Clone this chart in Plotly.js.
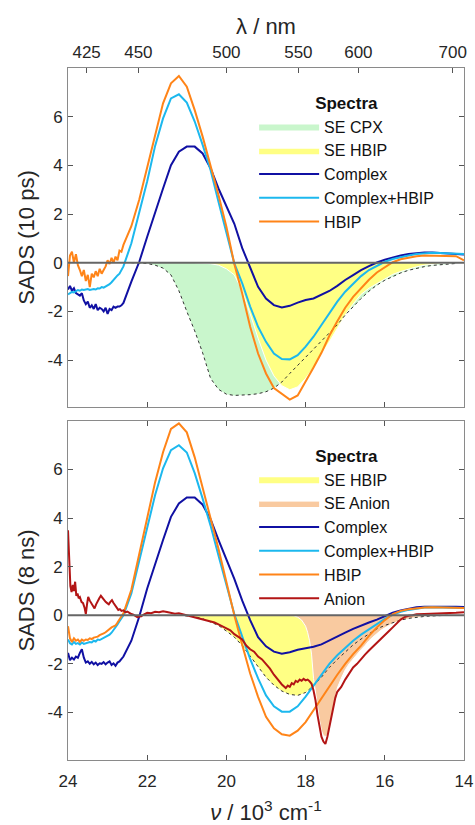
<!DOCTYPE html>
<html>
<head>
<meta charset="utf-8">
<script src="https://cdn.plot.ly/plotly-3.0.1.min.js"></script>
<style>html,body{margin:0;padding:0;background:#fff}#chart{width:475px;height:825px}</style>
</head>
<body>
<div id="chart"></div>
<script>
// wavenumber grid (10^3 cm^-1) for the SADS curves
const nu = [24.0,23.95,23.9,23.85,23.8,23.75,23.7,23.65,23.6,23.55,23.5,23.45,23.4,23.35,23.3,23.25,23.2,23.15,23.1,23.05,23.0,22.95,22.9,22.85,22.8,22.75,22.7,22.65,22.6,
  22.4,22.2,22.0,21.8,21.6,21.4,21.2,21.0,20.8,20.6,20.4,20.2,20.0,19.8,19.6,19.4,19.2,19.0,18.8,18.6,18.4,18.2,18.0,17.8,17.6,17.4,17.2,17.0,16.8,16.6,16.4,16.2,16.0,15.8,15.6,15.4,15.2,15.0,14.8,14.6,14.4,14.2,14.0];

// ---- top panel: SADS (10 ps)
const top_complex = [-1.1,-0.95,-1.15,-1.05,-1.25,-1.3,-1.35,-1.25,-1.55,-1.7,-1.6,-1.85,-1.75,-1.9,-1.7,-1.95,-1.85,-1.9,-2.0,-1.85,-2.1,-1.9,-1.95,-1.8,-1.85,-1.8,-1.8,-1.75,-1.65,
  -0.78,0.04,1.07,2.1,3.05,4.01,4.56,4.77,4.77,4.49,3.88,3.05,2.3,1.6,0.6,-0.2,-0.99,-1.47,-1.74,-1.84,-1.77,-1.64,-1.53,-1.47,-1.33,-1.16,-0.95,-0.71,-0.51,-0.3,-0.14,0.01,0.12,0.22,0.3,0.36,0.4,0.42,0.42,0.4,0.38,0.36,0.34];
const top_complexHBIP = [-1.3,-1.25,-1.2,-1.22,-1.15,-1.12,-1.15,-1.1,-1.12,-1.1,-1.08,-1.12,-1.1,-1.08,-1.1,-1.05,-1.06,-1.0,-1.02,-0.98,-0.95,-0.88,-0.8,-0.7,-0.6,-0.52,-0.45,-0.3,-0.15,
  0.8,2.1,3.35,4.8,5.93,6.75,6.92,6.58,5.8,4.84,3.81,2.5,1.2,-0.03,-0.85,-1.8,-2.63,-3.25,-3.73,-3.96,-3.97,-3.8,-3.45,-3.04,-2.56,-2.08,-1.6,-1.19,-0.85,-0.55,-0.3,-0.12,0.04,0.15,0.24,0.3,0.36,0.4,0.41,0.4,0.38,0.37,0.36];
const top_HBIP = [-0.55,0.3,0.45,0.0,0.35,-0.1,-0.3,-0.55,-0.3,-0.75,-0.5,-1.0,-0.45,-0.6,-0.35,-0.55,-0.25,-0.45,-0.3,-0.15,0.1,-0.05,0.2,0.0,0.25,0.1,0.5,0.45,0.73,
  1.5,2.6,3.9,5.2,6.55,7.37,7.67,7.23,6.27,5.18,4.01,2.78,1.48,-0.05,-1.26,-2.63,-3.73,-4.55,-5.15,-5.4,-5.62,-5.45,-4.9,-4.3,-3.7,-3.0,-2.4,-1.85,-1.4,-1.05,-0.7,-0.4,-0.18,0.02,0.14,0.22,0.27,0.3,0.3,0.3,0.28,0.27,0.1];

const nu_seCPX = [22.4,22.2,22.0,21.8,21.6,21.4,21.2,21.0,20.8,20.6,20.4,20.2,20.0,19.8,19.6,19.4,19.2,19.0,18.8,18.6,18.4,18.2,18.0,17.8,17.6,17.4,17.2,17.0,16.8,16.6,16.4,16.2,16.0,15.8,15.6,15.4,15.2,15.0,14.8,14.6,14.4,14.2];
const top_seCPX = [0,-0.01,-0.03,-0.1,-0.22,-0.5,-1.15,-2.0,-2.8,-3.7,-4.75,-5.2,-5.4,-5.45,-5.45,-5.42,-5.38,-5.3,-5.15,-4.9,-4.55,-4.22,-3.9,-3.55,-3.25,-2.92,-2.55,-2.15,-1.8,-1.47,-1.17,-0.92,-0.72,-0.56,-0.42,-0.31,-0.22,-0.16,-0.11,-0.08,-0.05,-0.03];

const nu_seHBIP_top = [20.8,20.6,20.4,20.2,20.0,19.8,19.6,19.4,19.2,19.0,18.8,18.6,18.4,18.2,18.0,17.8,17.6,17.4,17.2,17.0,16.8,16.6,16.4,16.2,16.0,15.8,15.6,15.4,15.2,15.0,14.8,14.6,14.4,14.2];
const top_seHBIP = [0,-0.01,-0.04,-0.1,-0.25,-0.5,-1.15,-2.1,-3.1,-4.0,-4.65,-5.05,-5.22,-5.1,-4.75,-4.3,-3.8,-3.25,-2.7,-2.15,-1.7,-1.3,-1.05,-0.85,-0.65,-0.48,-0.36,-0.26,-0.17,-0.1,-0.06,-0.04,-0.02,0];

// ---- bottom panel: SADS (8 ns)
const bot_complex = [-1.55,-1.85,-1.75,-1.82,-1.7,-1.75,-1.55,-1.4,-1.75,-1.95,-1.9,-2.0,-1.92,-2.02,-1.95,-2.05,-1.98,-2.0,-1.93,-2.02,-1.95,-1.9,-2.05,-1.98,-2.08,-1.95,-1.9,-1.8,-1.7,
  -1.05,-0.05,1.1,2.15,3.1,4.05,4.6,4.85,4.85,4.55,3.95,3.1,2.3,1.5,0.6,-0.2,-0.9,-1.28,-1.5,-1.58,-1.52,-1.42,-1.36,-1.3,-1.2,-1.05,-0.88,-0.72,-0.56,-0.42,-0.3,-0.18,-0.04,0.1,0.2,0.28,0.33,0.35,0.36,0.36,0.35,0.35,0.34];
const bot_complexHBIP = [-1.0,-1.15,-1.2,-1.1,-1.18,-1.15,-1.2,-1.12,-1.18,-1.15,-1.12,-1.1,-1.12,-1.05,-1.08,-1.0,-1.02,-0.98,-0.95,-0.9,-0.85,-0.8,-0.72,-0.62,-0.5,-0.38,-0.25,-0.12,0.0,
  0.9,2.2,3.6,4.95,6.05,6.8,7.0,6.7,5.85,4.8,3.69,2.46,1.25,0.05,-0.88,-1.8,-2.6,-3.3,-3.75,-3.97,-3.97,-3.75,-3.35,-2.9,-2.45,-2.0,-1.65,-1.35,-1.05,-0.8,-0.58,-0.35,-0.15,0.02,0.14,0.22,0.28,0.32,0.33,0.33,0.32,0.31,0.3];
const bot_HBIP = [-0.45,-0.95,-1.1,-0.95,-1.05,-1.0,-1.1,-1.0,-1.05,-1.0,-1.02,-0.95,-0.98,-0.92,-0.9,-0.88,-0.82,-0.8,-0.75,-0.7,-0.62,-0.55,-0.5,-0.46,-0.42,-0.3,-0.18,-0.05,0.08,
  1.05,2.5,4.0,5.48,6.71,7.67,7.9,7.53,6.5,5.27,4.07,2.74,1.37,0.0,-1.23,-2.4,-3.36,-4.18,-4.66,-4.9,-4.96,-4.75,-4.4,-3.9,-3.4,-2.9,-2.45,-2.0,-1.6,-1.25,-0.85,-0.5,-0.2,0.05,0.18,0.25,0.3,0.32,0.33,0.33,0.32,0.31,0.3];

const nu_anion = [24.0,23.97,23.94,23.91,23.88,23.85,23.82,23.79,23.76,23.73,23.7,23.66,23.62,23.58,23.55,23.52,23.49,23.45,23.41,23.37,23.33,23.29,23.25,23.21,23.17,23.13,23.09,23.05,23.01,22.97,22.93,22.89,22.85,22.81,22.77,22.73,22.69,22.65,22.6,22.55,22.5,22.45,22.4,22.35,22.3,22.25,22.2,22.15,22.1,22.05,22.0,
  21.9,21.8,21.7,21.6,21.5,21.4,21.3,21.2,21.1,21.0,20.9,20.8,20.7,20.6,20.5,20.4,20.3,20.2,20.1,20.0,19.9,19.8,19.7,19.6,19.5,19.4,19.3,19.2,19.1,19.0,18.9,18.8,18.7,18.6,18.5,
  18.45,18.4,18.35,18.3,18.25,18.2,18.15,18.1,18.05,18.0,17.95,17.9,17.85,17.8,17.75,17.7,17.65,17.6,17.55,17.5,17.45,17.4,17.35,17.3,17.25,17.2,
  17.1,17.0,16.9,16.8,16.7,16.6,16.5,16.4,16.3,16.2,16.1,16.0,15.9,15.8,15.7,15.6,15.5,15.4,15.3,15.2,15.0,14.8,14.6,14.4,14.2,14.0];
const bot_anion = [3.5,2.3,1.2,0.95,1.25,1.0,1.38,0.8,0.9,0.7,0.75,0.55,0.5,0.3,0.05,0.45,0.75,0.6,0.5,0.42,0.28,0.45,0.6,0.7,0.8,0.7,0.62,0.55,0.5,0.45,0.55,0.62,0.5,0.42,0.3,0.22,0.25,0.18,0.2,0.12,0.15,0.08,0.05,0.02,-0.05,-0.08,-0.05,-0.04,0.02,0.06,0.1,
  0.08,0.14,0.12,0.16,0.13,0.1,0.06,0.08,0.04,0.0,-0.05,-0.08,-0.12,-0.16,-0.2,-0.26,-0.3,-0.38,-0.45,-0.55,-0.62,-0.78,-0.9,-1.0,-1.25,-1.4,-1.5,-1.7,-1.82,-2.0,-2.2,-2.45,-2.65,-2.85,-3.0,
  -2.9,-2.95,-2.8,-2.85,-2.7,-2.75,-2.65,-2.7,-2.62,-2.68,-2.65,-2.72,-2.82,-3.1,-3.5,-4.1,-4.6,-5.0,-5.2,-5.3,-5.0,-4.6,-4.1,-3.7,-3.4,-3.15,
  -2.95,-2.65,-2.4,-2.15,-2.0,-1.8,-1.62,-1.45,-1.3,-1.15,-0.98,-0.82,-0.66,-0.5,-0.32,-0.18,-0.08,-0.02,0.0,0.04,0.05,0.06,0.05,0.08,0.1,0.12];

const nu_seHBIP_bot = [21.2,21.0,20.8,20.6,20.4,20.2,20.0,19.8,19.6,19.4,19.2,19.0,18.8,18.6,18.4,18.2,18.0,17.8,17.6,17.4,17.2,17.0,16.8,16.6,16.4,16.2,16.0,15.8,15.6,15.4,15.2,15.0,14.8,14.6,14.4];
const bot_seHBIP = [0,-0.02,-0.06,-0.14,-0.27,-0.42,-0.65,-0.9,-1.25,-1.7,-2.15,-2.55,-2.88,-3.12,-3.26,-3.3,-3.18,-2.9,-2.55,-2.15,-1.82,-1.5,-1.22,-0.98,-0.76,-0.56,-0.42,-0.3,-0.2,-0.13,-0.08,-0.05,-0.03,-0.02,0];

const nu_seAnion = [18.6,18.4,18.3,18.2,18.1,18.0,17.95,17.9,17.85,17.8,17.75,17.7,17.65,17.6,17.55,17.5,17.45,17.4,17.35,17.3,17.25,17.2,17.1,17.0,16.9,16.8,16.7,16.6,16.5,16.4,16.3,16.2,16.1,16.0,15.8,15.6,15.4,15.2,15.0,14.8,14.6,14.4];
const bot_seAnion = [0,0,-0.02,-0.08,-0.2,-0.45,-0.7,-1.05,-1.6,-2.6,-3.2,-3.7,-4.3,-4.75,-4.95,-5.0,-4.9,-4.7,-4.3,-3.9,-3.4,-3.0,-2.6,-2.25,-2.0,-1.8,-1.6,-1.42,-1.25,-1.05,-0.9,-0.75,-0.62,-0.52,-0.34,-0.22,-0.14,-0.09,-0.06,-0.04,-0.02,0];

// wavelength ticks (nm) on top axis
const lambdaTicks = [425,450,500,550,600,700];
const nuTicks = [24,22,20,18,16,14];
const yTicks = [-4,-2,0,2,4,6];

const C = {complex:'#1010a3', cplxHBIP:'#1cb8ee', hbip:'#ff8418', anion:'#b31515',
           green:'#c9f6cc', yellow:'#ffff84', peach:'#f9caa0'};
const FONT = 'Liberation Sans, Arial, Helvetica, sans-serif';
const LW = 2;

function line(x,y,name,color,xa,ya,leg){
  return {type:'scatter',mode:'lines',x:x,y:y,name:name,xaxis:xa,yaxis:ya,legend:leg,
          line:{color:color,width:LW},hoverinfo:'skip'};
}
function fillT(x,y,name,color,xa,ya,leg,lcol){
  return {type:'scatter',mode:'lines',x:x,y:y,name:name,xaxis:xa,yaxis:ya,legend:leg,
          fill:'tozeroy',fillcolor:color,line:{color:lcol||color,width:lcol?1:0},hoverinfo:'skip'};
}
function dotted(x,y,xa,ya){
  return {type:'scatter',mode:'lines',x:x,y:y,xaxis:xa,yaxis:ya,showlegend:false,
          line:{color:'#333',width:1,dash:'dot'},hoverinfo:'skip'};
}

const data = [
  // top panel
  fillT(nu_seCPX, top_seCPX, 'SE CPX', C.green, 'x2','y','legend'),
  fillT(nu_seHBIP_top, top_seHBIP, 'SE HBIP', C.yellow, 'x2','y','legend','#ffffff'),
  dotted(nu_seCPX, top_seCPX, 'x2','y'),
  line(nu, top_complex, 'Complex', C.complex, 'x2','y','legend'),
  line(nu, top_complexHBIP, 'Complex+HBIP', C.cplxHBIP, 'x2','y','legend'),
  line(nu, top_HBIP, 'HBIP', C.hbip, 'x2','y','legend'),
  // bottom panel
  fillT(nu_seHBIP_bot, bot_seHBIP, 'SE HBIP', C.yellow, 'x','y2','legend2'),
  fillT(nu_seAnion, bot_seAnion, 'SE Anion', C.peach, 'x','y2','legend2','#ffffff'),
  dotted(nu_seHBIP_bot, bot_seHBIP, 'x','y2'),
  line(nu, bot_complex, 'Complex', C.complex, 'x','y2','legend2'),
  line(nu, bot_complexHBIP, 'Complex+HBIP', C.cplxHBIP, 'x','y2','legend2'),
  line(nu, bot_HBIP, 'HBIP', C.hbip, 'x','y2','legend2'),
  line(nu_anion, bot_anion, 'Anion', C.anion, 'x','y2','legend2'),
  // empty trace to register the wavelength axis
  {type:'scatter',mode:'lines',x:[],y:[],xaxis:'x3',yaxis:'y',showlegend:false,hoverinfo:'skip'}
];

const frame = '#8a8a8a';
const tickFont = {family:FONT,size:17,color:'#262626'};
const baseX = {range:[24,14],autorange:false,showgrid:false,zeroline:false,showline:true,linecolor:frame,linewidth:1,
               ticks:'inside',ticklen:5,tickcolor:'#555',tickvals:nuTicks,tickfont:tickFont};
const baseY = {showgrid:false,zeroline:false,showline:true,linecolor:frame,linewidth:1,mirror:'ticks',
               ticks:'inside',ticklen:5,tickcolor:'#555',tickvals:yTicks,ticktext:yTicks.map(String),
               tickfont:tickFont,ticklabelstandoff:1,autorange:false};
const legBase = {xanchor:'left',yanchor:'top',bgcolor:'rgba(0,0,0,0)',font:{family:FONT,size:16,color:'#111'},
                 title:{text:'<b>Spectra</b>',side:'top center',font:{family:FONT,size:17,color:'#111'}},
                 itemwidth:60,traceorder:'normal',itemclick:false,itemdoubleclick:false};

const layout = {
  width:475,height:825,paper_bgcolor:'#ffffff',plot_bgcolor:'#ffffff',
  margin:{l:68,r:11,t:68,b:65},
  font:{family:FONT,color:'#262626'},
  showlegend:true,
  xaxis: Object.assign({}, baseX, {anchor:'y2',mirror:'ticks',ticklabelstandoff:6,
          ticktext:nuTicks.map(String),
          title:{text:'<i>ν</i> / 10<sup>3</sup> cm<sup>-1</sup>',font:{family:FONT,size:22,color:'#262626'},standoff:17}}),
  xaxis2: Object.assign({}, baseX, {anchor:'y',matches:'x',showticklabels:false,mirror:false}),
  xaxis3: {overlaying:'x2',anchor:'y',side:'top',range:[24,14],autorange:false,showgrid:false,zeroline:false,
           showline:true,linecolor:frame,ticks:'inside',ticklen:5,tickcolor:'#555',ticklabelstandoff:2,
           tickvals:lambdaTicks.map(l=>1e4/l),ticktext:lambdaTicks.map(String),tickfont:tickFont,
           title:{text:'λ / nm',font:{family:FONT,size:22,color:'#262626'},standoff:2}},
  yaxis: Object.assign({}, baseY, {domain:[0.510,1],anchor:'x2',range:[-5.93,8.0],
          title:{text:'SADS (10 ps)',font:{family:FONT,size:22,color:'#262626'},standoff:6}}),
  yaxis2: Object.assign({}, baseY, {domain:[0,0.490],anchor:'x',range:[-5.96,8.0],
          title:{text:'SADS (8 ns)',font:{family:FONT,size:22,color:'#262626'},standoff:6}}),
  legend: Object.assign({}, legBase, {x:0.47,y:0.972}),
  legend2: Object.assign({}, legBase, {x:0.47,y:0.462}),
  shapes:[
    {type:'line',xref:'x2 domain',yref:'y',x0:0,x1:1,y0:0,y1:0,line:{color:'#666',width:2},layer:'above'},
    {type:'line',xref:'x domain',yref:'y2',x0:0,x1:1,y0:0,y1:0,line:{color:'#666',width:2},layer:'above'}
  ]
};

Plotly.newPlot('chart', data, layout, {staticPlot:true,displayModeBar:false});
</script>
</body>
</html>
